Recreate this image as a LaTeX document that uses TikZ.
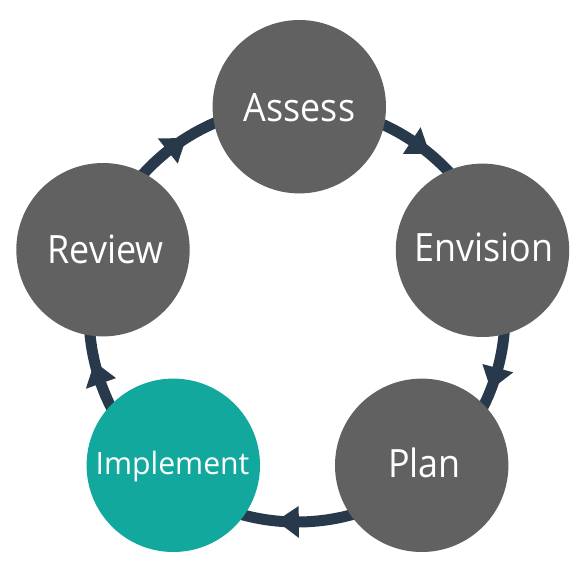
\documentclass[tikz,border=0pt]{standalone}
\usepackage{fontspec}
\usetikzlibrary{calc}
\newfontfamily\labfont[FakeStretch=0.92]{Open Sans}
\newfontfamily\labfontb[FakeStretch=0.98]{Open Sans}
\definecolor{stepgray}{HTML}{616161}
\definecolor{stepteal}{HTML}{12A89D}
\definecolor{ringcol}{HTML}{27394A}
\tikzset{
  stepdisc/.style={circle, inner sep=0pt, minimum size=173.4pt, fill=stepgray, draw=none},
  steptext/.style={anchor=base, inner sep=0pt, text=white, font=\labfont\fontsize{39}{39}\selectfont},
  ringline/.style={draw=ringcol, line width=11pt},
  headfill/.style={fill=ringcol},
}
\newcommand{\ringhead}[1]{%
  \fill[headfill] ($(ctr)+(#1:192)$) -- ($(ctr)+(#1:224)$) -- ($(ctr)+(#1-6.2:208)$) -- cycle;}
\begin{document}
\begin{tikzpicture}[x=1pt,y=1pt]
\useasboundingbox (0,0) rectangle (587,-571);
\coordinate (ctr) at (297,-314);
\draw[ringline] (ctr) circle[radius=208];
\ringhead{128.4}
\ringhead{56.5}
\ringhead{-15.1}
\ringhead{-89.5}
\ringhead{-160.5}
\node[stepdisc] (assess) at (299.3,-106.7) {};
\node[stepdisc] (envision) at (482.5,-250.3) {};
\node[stepdisc] (plan) at (421.7,-465.3) {};
\node[stepdisc, fill=stepteal] (implement) at (173.3,-465.3) {};
\node[stepdisc] (review) at (103,-249.7) {};
\node[steptext] (tassess) at (299.5,-121) {Assess};
\node[steptext] (tenvision) at (484,-261.7) {Envision};
\node[steptext] (tplan) at (424.5,-477.7) {Plan};
\node[steptext, font=\labfontb\fontsize{30.8}{30.8}\selectfont] (timplement) at (172.5,-474.3) {Implement};
\node[steptext] (treview) at (105.5,-263.3) {Review};
\end{tikzpicture}
\end{document}
